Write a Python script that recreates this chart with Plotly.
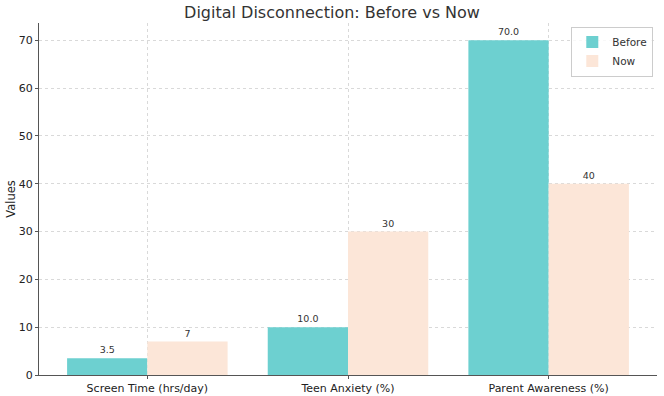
import plotly.graph_objects as go

categories = ["Screen Time (hrs/day)", "Teen Anxiety (%)", "Parent Awareness (%)"]
before_vals = [3.5, 10.0, 70.0]
now_vals = [7, 30, 40]
before_labels = ["3.5", "10.0", "70.0"]
now_labels = ["7", "30", "40"]

font = "DejaVu Sans"
fig = go.Figure()
fig.add_trace(go.Bar(x=categories, y=before_vals, name="Before", marker_color="#6dd0d0",
                     marker_line_width=0, text=before_labels, textposition="outside",
                     textfont=dict(size=9.5, color="#333333"), cliponaxis=False))
fig.add_trace(go.Bar(x=categories, y=now_vals, name="Now", marker_color="#fce6d8",
                     marker_line_width=0, text=now_labels, textposition="outside",
                     textfont=dict(size=9.5, color="#333333"), cliponaxis=False))

fig.update_layout(
    width=664, height=396,
    margin=dict(l=39, r=7, t=23, b=21),
    paper_bgcolor="white", plot_bgcolor="white",
    barmode="group", bargap=0.2, bargroupgap=0,
    font=dict(family=font, color="#222222", size=11),
    title=dict(text="Digital Disconnection: Before vs Now", x=0.5, xanchor="center",
               y=0.968, yanchor="middle", font=dict(size=16, color="#333333")),
    showlegend=True,
    legend=dict(x=0.994, y=0.99, xanchor="right", yanchor="top", itemwidth=30,
                bgcolor="rgba(255,255,255,0.8)", bordercolor="#cccccc", borderwidth=1,
                font=dict(size=10.5, color="#333333")),
)
fig.update_xaxes(
    range=[-0.54, 2.54], showgrid=True, gridcolor="#d9d9d9", griddash="dot", gridwidth=1,
    showline=True, linecolor="#555555", linewidth=1.3, ticks="outside", ticklen=3,
    tickcolor="#555555", automargin=False, tickfont=dict(size=11, color="#222222"),
)
fig.update_yaxes(
    range=[0, 73.6], dtick=10, showgrid=True, gridcolor="#d9d9d9", griddash="dot", gridwidth=1,
    showline=True, linecolor="#555555", linewidth=1.3, ticks="outside", ticklen=3,
    tickcolor="#555555", automargin=False, zeroline=False, tickfont=dict(size=11, color="#222222"),
    title=dict(text="Values", font=dict(size=11.5, color="#222222"), standoff=0),
)
fig.write_html("out.html", config={"displayModeBar": False},
               post_script="document.body.style.margin='0';document.body.style.overflow='hidden';")
